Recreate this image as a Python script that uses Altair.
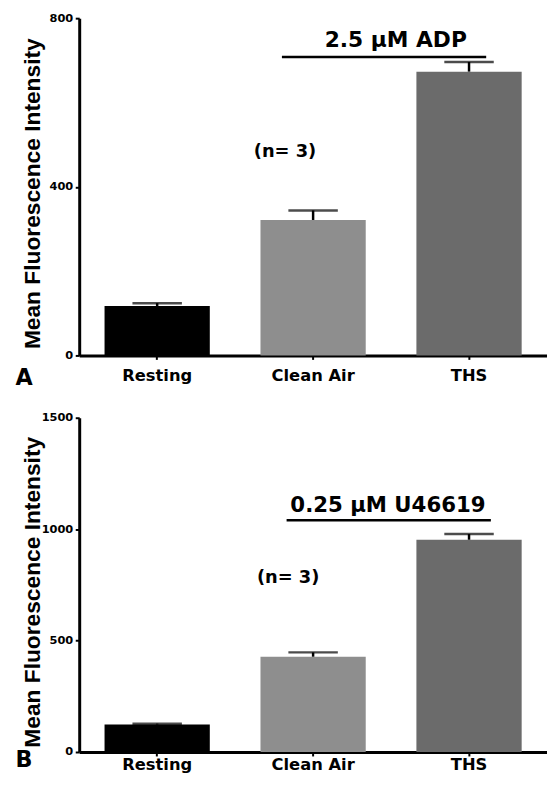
import altair as alt
import pandas as pd

# ---------------- data ----------------
categories = ["Resting", "Clean Air", "THS"]
bar_colors = ["#000000", "#8e8e8e", "#6b6b6b"]

means_a = [117, 321, 673]
errs_a = [7, 23, 23]
means_b = [123, 427, 952]
errs_b = [4, 20, 26]

ticks_a = [0, 400, 800]
ticks_b = [0, 500, 1000, 1500]
ymax_a = 800
ymax_b = 1500

label_a = "2.5 \u03bcM ADP"
label_b = "0.25 \u03bcM U46619"
n_label = "(n= 3)"
y_title = "Mean Fluorescence Intensity"

# annotation positions in category-axis units (0..3, band centres at 0.5, 1.5, 2.5)
ann_line_x_a = [1.30, 2.61]
ann_line_y_a = 708
ann_text_a = [2.03, 731]
ann_n_a = [1.32, 482]

ann_line_x_b = [1.33, 2.64]
ann_line_y_b = 1040
ann_text_b = [1.98, 1075]
ann_n_b = [1.34, 781]

FONT = "DejaVu Sans"
TFONT = "Liberation Sans"
W = 473


def panel(means, errs, ymax, ticks, line_x, line_y, text_pos, n_pos, label, label_fs,
          letter, letter_dy, height, xlab_pad, title_y):
    df = pd.DataFrame({
        "cat": categories,
        "mean": means,
        "top": [m + e for m, e in zip(means, errs)],
    })
    xband = alt.X(
        "cat:N", sort=categories,
        scale=alt.Scale(domain=categories, paddingInner=0.325, paddingOuter=0.1625),
        axis=alt.Axis(title=None, labelAngle=0, labelFontSize=16.5, tickSize=4,
                      labelPadding=xlab_pad, domainWidth=3, tickWidth=2),
    )
    yaxis = alt.Axis(
        values=ticks, format="d", title=y_title, labelFontSize=11.5, tickSize=4, labelPadding=2.5,
        domainWidth=3, tickWidth=2, titleFont=TFONT, titleFontSize=23, titleX=-47.5, titleY=title_y,
        titleBaseline="middle", titleAlign="center", titleAngle=-90,
    )
    yscale = alt.Scale(domain=[0, ymax], nice=False)

    stem = alt.Chart(df).mark_rule(color="black", strokeWidth=2.5).encode(
        x=xband, y=alt.Y("mean:Q", scale=yscale, axis=yaxis), y2="top:Q")
    bars = alt.Chart(df).mark_bar().encode(
        x=xband,
        y=alt.Y("mean:Q", scale=yscale, axis=yaxis),
        color=alt.Color("cat:N", scale=alt.Scale(domain=categories, range=bar_colors), legend=None),
    )
    cap = alt.Chart(df).mark_tick(color="black", thickness=2.5, size=50).encode(
        x=xband, y=alt.Y("top:Q", scale=yscale, axis=yaxis))
    data_layer = alt.layer(stem, bars, cap)

    qx = alt.Scale(domain=[0, 3], nice=False, zero=False)
    line_df = pd.DataFrame({"x": [line_x[0]], "x2": [line_x[1]], "y": [line_y]})
    line = alt.Chart(line_df).mark_rule(color="black", strokeWidth=2.5).encode(
        x=alt.X("x:Q", scale=qx, axis=None), x2="x2:Q",
        y=alt.Y("y:Q", scale=yscale, axis=yaxis))
    big_df = pd.DataFrame({"x": [text_pos[0]], "y": [text_pos[1]], "t": [label]})
    n_df = pd.DataFrame({"x": [n_pos[0]], "y": [n_pos[1]], "t": [n_label]})
    big = alt.Chart(big_df).mark_text(
        font=FONT, fontWeight="bold", fontSize=label_fs, baseline="alphabetic", align="center", color="black"
    ).encode(x=alt.X("x:Q", scale=qx, axis=None), y=alt.Y("y:Q", scale=yscale, axis=yaxis), text="t:N")
    nn = alt.Chart(n_df).mark_text(
        font=FONT, fontWeight="bold", fontSize=18, baseline="middle", align="center", color="black"
    ).encode(x=alt.X("x:Q", scale=qx, axis=None), y=alt.Y("y:Q", scale=yscale, axis=yaxis), text="t:N")
    ann_layer = alt.layer(line, big, nn)

    let = alt.Chart(pd.DataFrame({"t": [letter]})).mark_text(
        font=FONT, fontWeight="bold", fontSize=22.5, align="left", baseline="alphabetic", color="black"
    ).encode(x=alt.value(-64.5), y=alt.value(letter_dy), text="t:N")

    return alt.layer(data_layer, ann_layer, let).resolve_scale(x="independent").properties(
        width=W, height=height)


pa = panel(means_a, errs_a, ymax_a, ticks_a, ann_line_x_a, ann_line_y_a, ann_text_a, ann_n_a,
           label_a, 22, "A", 371, 341, 8, 177)
pb = panel(means_b, errs_b, ymax_b, ticks_b, ann_line_x_b, ann_line_y_b, ann_text_b, ann_n_b,
           label_b, 21.5, "B", 353.5, 338, 1, 176)

chart = alt.vconcat(pa, pb, spacing=63, bounds="flush").properties(
    padding={"left": 7, "top": 0, "right": 0, "bottom": 0},
    background="white",
).configure_view(stroke=None).configure_axis(
    grid=False, domainColor="black", tickColor="black", labelColor="black", titleColor="black",
    labelFont=FONT, titleFont=TFONT, labelFontWeight="bold", titleFontWeight="bold",
)

chart.save("out.html", embed_options={"renderer": "svg", "actions": False})
